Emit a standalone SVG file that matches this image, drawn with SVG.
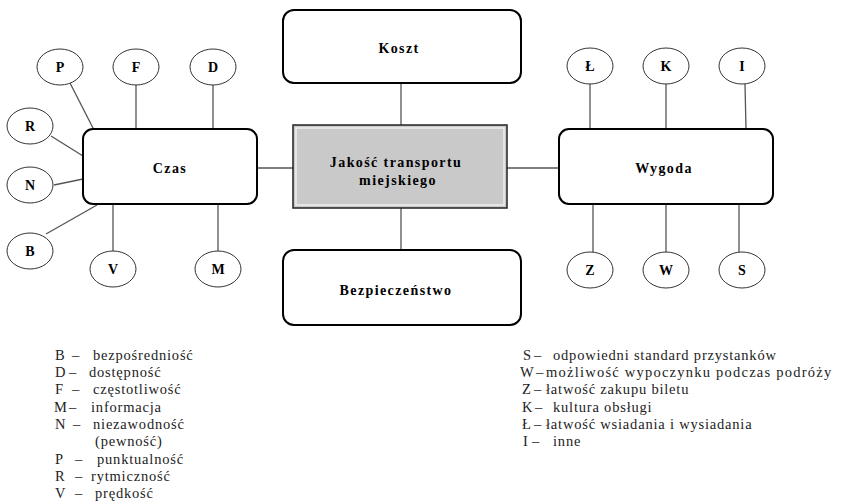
<svg xmlns="http://www.w3.org/2000/svg" width="841" height="503" viewBox="0 0 841 503">
<style>
.box{fill:#fff;stroke:#000;stroke-width:2}
.el{fill:#fff;stroke:#333;stroke-width:1}
.ln{stroke:#555;stroke-width:1.3;fill:none}
.lbl{font-family:"Liberation Serif",serif;font-weight:bold;font-size:14px;letter-spacing:1.4px;text-anchor:middle;fill:#000}
.let{font-family:"Liberation Serif",serif;font-weight:bold;font-size:14px;text-anchor:middle;fill:#000}
.leg{font-family:"Liberation Serif",serif;font-size:14.5px;letter-spacing:0.8px;fill:#222}
</style>
<rect width="841" height="503" fill="#fff"/>
<g id="connectors">
<line class="ln" x1="401" y1="83" x2="401" y2="125"/>
<line class="ln" x1="401" y1="208" x2="401" y2="250"/>
<line class="ln" x1="257" y1="168" x2="293" y2="168"/>
<line class="ln" x1="507" y1="168" x2="559" y2="168"/>
<line class="ln" x1="70" y1="83" x2="94" y2="130"/>
<line class="ln" x1="136" y1="85" x2="136" y2="129"/>
<line class="ln" x1="213" y1="85" x2="213" y2="129"/>
<line class="ln" x1="51" y1="136" x2="83" y2="156"/>
<line class="ln" x1="54" y1="185" x2="83" y2="179"/>
<line class="ln" x1="46" y1="234" x2="97" y2="205"/>
<line class="ln" x1="113" y1="204" x2="113" y2="251"/>
<line class="ln" x1="218" y1="204" x2="218" y2="251"/>
<line class="ln" x1="590" y1="84" x2="590" y2="129"/>
<line class="ln" x1="666" y1="84" x2="666" y2="129"/>
<line class="ln" x1="745" y1="84" x2="746" y2="129"/>
<line class="ln" x1="593" y1="204" x2="593" y2="252"/>
<line class="ln" x1="666" y1="204" x2="666" y2="252"/>
<line class="ln" x1="739" y1="204" x2="739" y2="252"/>
</g>
<g id="center">
<rect x="293" y="125" width="214" height="83" fill="#c9c9c9" stroke="#222" stroke-width="1.5"/>
<rect x="296" y="128" width="208" height="77" fill="none" stroke="#eee" stroke-width="1.5"/>
<text class="lbl" x="396" y="167">Jakość transportu</text>
<text class="lbl" x="398" y="185">miejskiego</text>
</g>
<g id="koszt">
<rect class="box" x="283" y="10" width="238" height="73" rx="11"/>
<text class="lbl" x="399" y="53">Koszt</text>
</g>
<g id="bezpieczenstwo">
<rect class="box" x="283" y="250" width="238" height="75" rx="11"/>
<text class="lbl" x="396" y="295">Bezpieczeństwo</text>
</g>
<g id="czas">
<rect class="box" x="83" y="129" width="174" height="75" rx="10"/>
<text class="lbl" x="170" y="173">Czas</text>
</g>
<g id="wygoda">
<rect class="box" x="559" y="129" width="214" height="75" rx="10"/>
<text class="lbl" x="664" y="173">Wygoda</text>
</g>
<g id="P"><ellipse class="el" cx="60" cy="67" rx="23" ry="18"/><text class="let" x="60" y="72">P</text></g>
<g id="F"><ellipse class="el" cx="136" cy="67" rx="23" ry="18"/><text class="let" x="136" y="72">F</text></g>
<g id="D"><ellipse class="el" cx="213" cy="67" rx="23" ry="18"/><text class="let" x="213" y="72">D</text></g>
<g id="R"><ellipse class="el" cx="30" cy="126" rx="23" ry="18"/><text class="let" x="30" y="131">R</text></g>
<g id="N"><ellipse class="el" cx="30" cy="185" rx="23" ry="18"/><text class="let" x="30" y="190">N</text></g>
<g id="B"><ellipse class="el" cx="30" cy="251" rx="23" ry="18"/><text class="let" x="30" y="256">B</text></g>
<g id="V"><ellipse class="el" cx="113" cy="269" rx="23" ry="18"/><text class="let" x="113" y="274">V</text></g>
<g id="M"><ellipse class="el" cx="218" cy="269" rx="23" ry="18"/><text class="let" x="218" y="274">M</text></g>
<g id="L"><ellipse class="el" cx="590" cy="66" rx="23" ry="18"/><text class="let" x="590" y="71">Ł</text></g>
<g id="K"><ellipse class="el" cx="666" cy="66" rx="23" ry="18"/><text class="let" x="666" y="71">K</text></g>
<g id="I"><ellipse class="el" cx="742" cy="66" rx="23" ry="18"/><text class="let" x="742" y="71">I</text></g>
<g id="Z"><ellipse class="el" cx="590" cy="270" rx="23" ry="18"/><text class="let" x="590" y="275">Z</text></g>
<g id="W"><ellipse class="el" cx="666" cy="270" rx="23" ry="18"/><text class="let" x="666" y="275">W</text></g>
<g id="S"><ellipse class="el" cx="742" cy="270" rx="23" ry="18"/><text class="let" x="742" y="275">S</text></g>
<g id="legend-left" class="leg">
<text y="360"><tspan x="55">B</tspan><tspan x="72">–</tspan><tspan x="93">bezpośredniość</tspan></text>
<text y="377"><tspan x="55">D</tspan><tspan x="69">–</tspan><tspan x="89">dostępność</tspan></text>
<text y="394"><tspan x="55">F</tspan><tspan x="72">–</tspan><tspan x="93">częstotliwość</tspan></text>
<text y="412"><tspan x="54">M</tspan><tspan x="69">–</tspan><tspan x="91">informacja</tspan></text>
<text y="429"><tspan x="55">N</tspan><tspan x="73">–</tspan><tspan x="93">niezawodność</tspan></text>
<text y="446"><tspan x="95">(pewność)</tspan></text>
<text y="464"><tspan x="55">P</tspan><tspan x="75">–</tspan><tspan x="97">punktualność</tspan></text>
<text y="481"><tspan x="55">R</tspan><tspan x="75">–</tspan><tspan x="91">rytmiczność</tspan></text>
<text y="498"><tspan x="55">V</tspan><tspan x="75">–</tspan><tspan x="95">prędkość</tspan></text>
</g>
<g id="legend-right" class="leg">
<text y="360"><tspan x="523">S</tspan><tspan x="534">–</tspan><tspan x="553">odpowiedni standard przystanków</tspan></text>
<text y="377"><tspan x="520">W</tspan><tspan x="536">–</tspan><tspan x="546" textLength="286">możliwość wypoczynku podczas podróży</tspan></text>
<text y="394"><tspan x="522">Z</tspan><tspan x="534">–</tspan><tspan x="546">łatwość zakupu biletu</tspan></text>
<text y="412"><tspan x="522">K</tspan><tspan x="535">–</tspan><tspan x="553">kultura obsługi</tspan></text>
<text y="429"><tspan x="522">Ł</tspan><tspan x="534">–</tspan><tspan x="546">łatwość wsiadania i wysiadania</tspan></text>
<text y="446"><tspan x="523">I</tspan><tspan x="532">–</tspan><tspan x="553">inne</tspan></text>
</g>
</svg>
